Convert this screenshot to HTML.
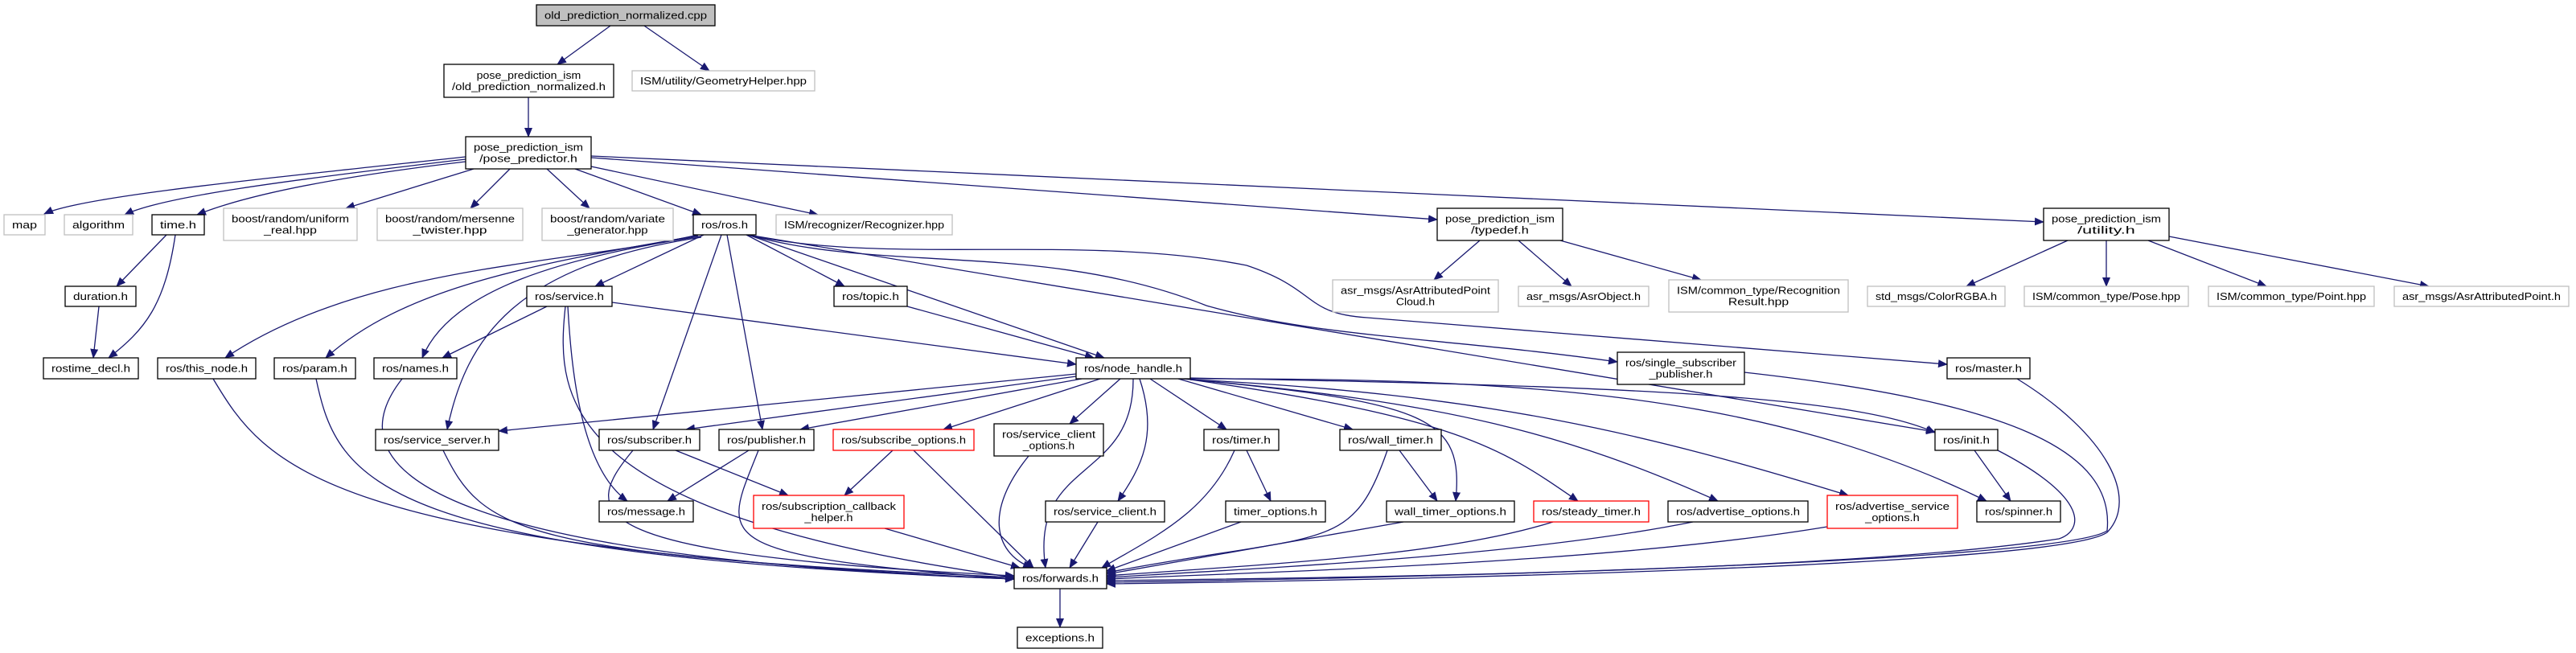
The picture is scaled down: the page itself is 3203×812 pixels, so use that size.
<!DOCTYPE html>
<html><head><meta charset="utf-8"><style>html,body{margin:0;padding:0;background:#fff}svg{display:block}</style></head>
<body>
<svg id="g" xmlns="http://www.w3.org/2000/svg" width="3203" height="812" viewBox="0 0 3203 812">
<defs><marker id="a" markerUnits="userSpaceOnUse" markerWidth="12" markerHeight="10" refX="11" refY="5" orient="auto"><path d="M0,0 L12,5 L0,10 z" fill="#191970"/></marker></defs>
<g id="edges" fill="none" stroke="#191970" stroke-width="1.3" marker-end="url(#a)"></g>
<g id="nodes"></g>
</svg>
<script>
var N=[
[667,6,889,32,["old_prediction_normalized.cpp"],"g"],
[552,80,763,121,["pose_prediction_ism","/old_prediction_normalized.h"],"b"],
[786,88,1013,113,["ISM/utility/GeometryHelper.hpp"],"l"],
[579,170,735,210,["pose_prediction_ism","/pose_predictor.h"],"b"],
[5,267,56,292,["map"],"l"],
[80,267,165,292,["algorithm"],"l"],
[189,267,254,292,["time.h"],"b"],
[278,259,444,299,["boost/random/uniform","_real.hpp"],"l"],
[469,259,650,299,["boost/random/mersenne","_twister.hpp"],"l"],
[674,259,837,299,["boost/random/variate","_generator.hpp"],"l"],
[862,267,940,292,["ros/ros.h"],"b"],
[965,267,1184,292,["ISM/recognizer/Recognizer.hpp"],"l"],
[1787,259,1943,299,["pose_prediction_ism","/typedef.h"],"b"],
[2541,259,2697,299,["pose_prediction_ism","/utility.h"],"b"],
[81,356,169,381,["duration.h"],"b"],
[655,356,761,381,["ros/service.h"],"b"],
[1037,356,1128,381,["ros/topic.h"],"b"],
[1657,348,1863,388,["asr_msgs/AsrAttributedPoint","Cloud.h"],"l"],
[1888,356,2050,381,["asr_msgs/AsrObject.h"],"l"],
[2075,348,2298,388,["ISM/common_type/Recognition","Result.hpp"],"l"],
[2322,356,2493,381,["std_msgs/ColorRGBA.h"],"l"],
[2517,356,2721,381,["ISM/common_type/Pose.hpp"],"l"],
[2746,356,2952,381,["ISM/common_type/Point.hpp"],"l"],
[2977,356,3194,381,["asr_msgs/AsrAttributedPoint.h"],"l"],
[54,445,172,471,["rostime_decl.h"],"b"],
[196,445,318,471,["ros/this_node.h"],"b"],
[341,445,442,471,["ros/param.h"],"b"],
[465,445,568,471,["ros/names.h"],"b"],
[1338,445,1480,471,["ros/node_handle.h"],"b"],
[2011,438,2169,478,["ros/single_subscriber","_publisher.h"],"b"],
[2421,445,2524,471,["ros/master.h"],"b"],
[467,534,620,560,["ros/service_server.h"],"b"],
[745,534,870,560,["ros/subscriber.h"],"b"],
[894,534,1012,560,["ros/publisher.h"],"b"],
[1036,534,1211,560,["ros/subscribe_options.h"],"r"],
[1236,527,1372,567,["ros/service_client","_options.h"],"b"],
[1497,534,1590,560,["ros/timer.h"],"b"],
[1666,534,1792,560,["ros/wall_timer.h"],"b"],
[2406,534,2484,560,["ros/init.h"],"b"],
[745,623,862,649,["ros/message.h"],"b"],
[937,616,1124,657,["ros/subscription_callback","_helper.h"],"r"],
[1300,623,1448,649,["ros/service_client.h"],"b"],
[1524,623,1648,649,["timer_options.h"],"b"],
[1724,623,1883,649,["wall_timer_options.h"],"b"],
[1907,623,2050,649,["ros/steady_timer.h"],"r"],
[2074,623,2248,649,["ros/advertise_options.h"],"b"],
[2272,616,2434,657,["ros/advertise_service","_options.h"],"r"],
[2458,623,2562,649,["ros/spinner.h"],"b"],
[1261,706,1376,732,["ros/forwards.h"],"b"],
[1265,780,1371,806,["exceptions.h"],"b"]
];
var E=[
"M759,32 L693,80","M801,32 L882,88","M657,121 L657,170",
"M579,195 C300,225 100,245 55,266","M579,198 C350,225 200,245 155,267","M579,201 C400,222 300,245 245,267",
"M589,210 L430,259","M634,210 L585,259","M680,210 L733,259","M715,210 L872,267","M735,207 L1017,267",
"M735,196 L1787,273","M735,194 L2541,276",
"M207,292 L145,356","M218,292 C205,380 180,410 135,445","M123,381 L116,445",
"M1840,299 L1783,348","M1888,299 L1954,356","M1940,299 L2115,348",
"M2571,299 L2445,356","M2619,299 L2619,356","M2671,299 L2818,356","M2697,294 L3020,356",
"M868,292 C700,330 450,330 280,445","M868,293 C650,330 500,360 405,445","M870,294 C700,320 560,360 525,445",
"M875,292 L740,356","M872,295 C640,330 580,420 556,534",
"M897,292 L812,534","M904,292 L948,534","M928,292 L1050,356","M930,292 L1373,445",
"M930,292 L2406,537","M930,292 C1100,340 1300,300 1500,380 C1640,420 1800,420 2011,450",
"M930,292 C1100,330 1350,290 1550,330 C1640,360 1620,390 1700,395 L2421,453",
"M680,381 L550,445","M761,376 L1338,453","M706,381 C710,450 720,580 780,623","M703,381 C690,500 700,640 1261,718",
"M1128,381 L1360,445",
"M265,471 C330,580 400,680 1261,720","M393,471 C420,600 470,690 1261,720","M500,471 C430,560 460,690 1261,720",
"M551,560 C600,660 640,690 1261,718","M787,560 C720,640 720,690 1261,716","M840,560 L980,616",
"M931,560 L830,623","M943,560 C900,670 870,690 1261,720",
"M1110,560 L1050,616","M1136,560 L1285,706","M1100,657 L1268,706",
"M1279,567 C1220,640 1240,690 1283,706","M1365,649 L1330,706",
"M1535,560 C1500,640 1430,670 1370,706","M1550,560 L1580,623","M1543,649 L1376,710",
"M1740,560 L1787,623","M1725,560 C1680,690 1650,660 1376,712","M1745,649 L1376,714",
"M1931,649 C1800,690 1600,700 1376,716","M2105,649 C1900,690 1600,705 1376,718","M2272,655 C2000,700 1600,710 1376,720",
"M2484,560 C2600,620 2590,660 2560,670 C2300,710 1700,718 1376,722",
"M2169,463 C2500,500 2630,560 2620,660 C2560,700 1700,720 1376,724",
"M2508,471 C2620,540 2660,620 2620,662 C2560,705 1700,722 1376,726",
"M2455,560 L2500,623",
"M1338,465 L620,536","M1338,468 L853,534","M1345,471 L995,534","M1368,471 L1173,534","M1393,471 L1330,527",
"M1409,471 C1410,600 1280,570 1300,706","M1417,471 C1440,540 1420,580 1390,623",
"M1430,471 L1525,534","M1465,471 L1682,534","M1470,471 C1780,500 1820,520 1810,623",
"M1480,472 C1820,520 1870,560 1962,623","M1480,472 C1800,500 1950,540 2136,623",
"M1480,472 C1850,490 2050,540 2298,616","M1480,471 C1900,470 2200,490 2470,623","M1480,470 C2000,480 2300,490 2406,538",
"M1376,732 L1376,732","M1318,732 L1318,780"
];
var ns="http://www.w3.org/2000/svg",eg=document.getElementById("edges"),ng=document.getElementById("nodes");
E.forEach(function(d){if(d==="M1376,732 L1376,732")return;var p=document.createElementNS(ns,"path");p.setAttribute("d",d);eg.appendChild(p);});
N.forEach(function(n){var r=document.createElementNS(ns,"rect");var w=n[2]-n[0],h=n[3]-n[1];
r.setAttribute("x",n[0]);r.setAttribute("y",n[1]);r.setAttribute("width",w);r.setAttribute("height",h);
r.setAttribute("fill",n[5]==="g"?"#bfbfbf":"#fff");
r.setAttribute("stroke",n[5]==="l"?"#bfbfbf":(n[5]==="r"?"#ff0000":"#000"));r.setAttribute("stroke-width","1.3");ng.appendChild(r);
var L=n[4],mx=0;L.forEach(function(s){mx=Math.max(mx,s.length)});
var cx=(n[0]+n[2])/2,cy=(n[1]+n[3])/2;
L.forEach(function(s,i){var t=document.createElementNS(ns,"text");t.textContent=s;
t.setAttribute("x",cx);t.setAttribute("y",cy+(i-(L.length-1)/2)*14+4.5);t.setAttribute("text-anchor","middle");
t.setAttribute("font-family","Liberation Sans, sans-serif");t.setAttribute("font-size","13");t.setAttribute("fill","#000");
t.setAttribute("textLength",((w-20)*s.length/mx).toFixed(1));t.setAttribute("lengthAdjust","spacingAndGlyphs");ng.appendChild(t);});
});
</script>
</body></html>
